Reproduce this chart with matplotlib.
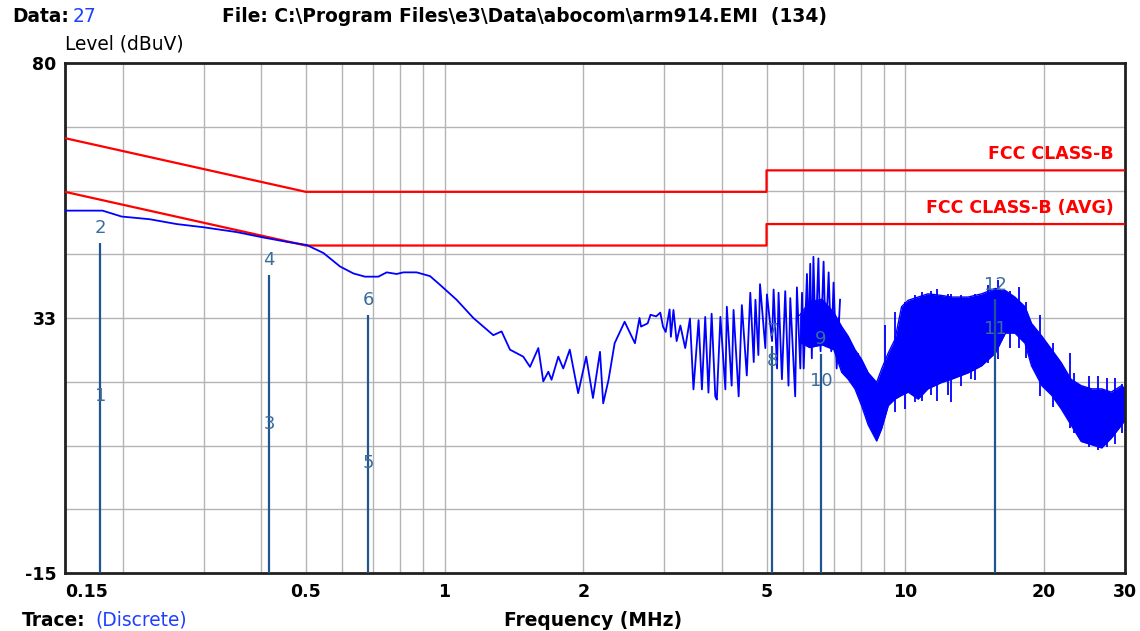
import numpy as np
import matplotlib
matplotlib.use("Agg")
import matplotlib.pyplot as plt

# ---------------- data ----------------
# scanned trace (line part, MHz / dBuV)
trace_freq = [0.150, 0.181, 0.199, 0.229, 0.262, 0.300, 0.354, 0.404, 0.454, 0.502,
              0.546, 0.593, 0.634, 0.672, 0.718, 0.749, 0.787, 0.814, 0.870, 0.930,
              0.977, 1.062, 1.155, 1.276, 1.330, 1.387, 1.482, 1.533, 1.598, 1.638,
              1.680, 1.707, 1.766, 1.810, 1.870, 1.950, 2.030, 2.100, 2.175, 2.210,
              2.270, 2.340, 2.460, 2.590, 2.650, 2.670, 2.760, 2.800, 2.880, 2.940,
              2.980, 3.020, 3.080, 3.100, 3.140, 3.190, 3.250, 3.330, 3.410, 3.470,
              3.560, 3.620, 3.680, 3.740, 3.800, 3.870, 3.900, 3.970, 4.070, 4.100,
              4.200, 4.240, 4.350, 4.420, 4.530, 4.610, 4.690, 4.730, 4.800, 4.840,
              4.970, 5.010, 5.140, 5.180, 5.270, 5.310, 5.400, 5.490, 5.580, 5.630,
              5.770, 5.820, 5.920, 5.970, 6.020, 6.120, 6.170, 6.220, 6.270, 6.320,
              6.390, 6.480, 6.550, 6.650, 6.720, 6.820, 6.910, 6.990, 7.100, 7.220]
trace_level = [52.5, 52.5, 51.4, 50.9, 50.0, 49.4, 48.5, 47.5, 46.7, 46.1,
               44.6, 42.1, 40.8, 40.2, 40.2, 41.0, 40.7, 41.0, 41.0, 40.3,
               38.7, 35.9, 32.5, 29.3, 30.0, 26.6, 25.3, 23.4, 26.9, 20.7,
               22.5, 21.0, 25.3, 23.1, 26.6, 18.5, 25.3, 17.6, 26.2, 16.6,
               21.0, 27.8, 31.8, 27.8, 32.5, 30.9, 31.5, 33.1, 32.8, 33.5,
               30.9, 29.9, 34.1, 29.0, 34.0, 28.2, 31.1, 26.9, 32.4, 19.2,
               32.1, 19.2, 32.7, 18.6, 33.3, 17.9, 17.3, 32.7, 19.2, 34.6,
               19.9, 34.0, 17.9, 34.9, 21.8, 37.2, 24.3, 35.9, 25.6, 38.8,
               26.9, 36.9, 28.2, 37.8, 23.1, 37.2, 21.1, 37.5, 19.9, 36.2,
               17.9, 38.2, 23.1, 37.2, 23.1, 40.7, 27.6, 42.6, 25.0, 43.9,
               28.2, 43.6, 26.3, 43.0, 27.6, 41.0, 26.3, 39.1, 23.1, 35.9]

# dense part of the trace: envelope of the solid band
band_freq = [5.9, 6.2, 6.6, 7.0, 7.28, 7.52, 7.78, 8.04, 8.31, 8.67, 8.89, 9.19,
             9.5, 9.82, 10.15, 10.67, 11.2, 12.0, 12.6, 13.7, 14.65, 15.7, 16.5,
             17.3, 18.2, 18.8, 19.8, 20.8, 21.8, 22.9, 24.1, 25.4, 26.7, 28.0,
             29.5, 30.0]
band_hi = [33.0, 35.5, 36.0, 33.5, 30.9, 29.1, 26.6, 24.8, 22.3, 20.5, 23.0, 26.0,
           28.5, 34.6, 35.8, 36.4, 37.0, 36.7, 36.4, 36.4, 37.0, 38.0, 37.6,
           36.4, 34.6, 31.5, 29.1, 26.6, 24.2, 21.1, 19.9, 19.3, 19.3, 18.7,
           19.9, 19.3]
band_lo = [28.0, 27.0, 27.5, 26.6, 22.4, 21.1, 19.3, 16.2, 12.6, 9.6, 11.9, 16.2,
           17.4, 18.1, 18.7, 17.4, 19.3, 20.5, 21.1, 22.3, 23.6, 26.0, 29.7,
           29.7, 27.8, 23.6, 19.9, 18.1, 15.6, 12.6, 9.5, 8.9, 8.3, 10.1,
           12.6, 13.5]

# individual spikes sticking out of the band
spike_freq = [7.2, 7.5, 7.9, 9.04, 9.5, 10.0, 10.5, 10.9, 11.4, 11.7, 12.4, 12.6,
              13.2, 13.9, 14.2, 15.1, 15.9, 16.9, 17.7, 18.3, 19.6, 20.9, 22.8,
              23.3, 25.0, 26.2, 27.4, 28.5, 29.5]
spike_hi = [32.7, 29.1, 26.0, 31.2, 33.7, 35.5, 36.7, 37.3, 37.6, 37.9, 37.0, 37.0,
            36.7, 36.5, 37.0, 38.6, 39.5, 37.6, 38.3, 35.5, 33.0, 27.8, 26.0,
            22.3, 21.7, 21.7, 21.4, 21.4, 20.2]
spike_lo = [24.0, 22.0, 18.0, 14.0, 15.0, 15.6, 16.8, 17.0, 18.1, 17.0, 18.1, 16.8,
            19.9, 21.1, 21.0, 24.2, 24.8, 27.0, 27.0, 25.0, 18.0, 16.0, 12.0,
            11.0, 8.5, 8.0, 8.5, 9.0, 11.0]

# FCC class B limits
qp_freq = [0.15, 0.5, 5.0, 5.0, 30.0]
qp_level = [66.0, 56.0, 56.0, 60.0, 60.0]
avg_freq = [0.15, 0.5, 5.0, 5.0, 30.0]
avg_level = [56.0, 46.0, 46.0, 50.0, 50.0]
limit_names = ["FCC CLASS-B", "FCC CLASS-B (AVG)"]

# markers
marker_id = ["1", "2", "3", "4", "5", "6", "7", "8", "9", "10", "11", "12"]
marker_freq = [0.179, 0.179, 0.416, 0.416, 0.682, 0.682, 5.14, 5.14, 6.56, 6.56, 15.66, 15.66]
marker_level = [15.2, 46.5, 10.0, 40.5, 2.7, 33.1, 27.3, 21.7, 25.8, 18.0, 27.7, 36.0]

x_tick_vals = [0.15, 0.5, 1, 2, 5, 10, 20, 30]
x_tick_labels = ["0.15", "0.5", "1", "2", "5", "10", "20", "30"]
x_grid_vals = [0.2, 0.3, 0.4, 0.5, 0.6, 0.7, 0.8, 0.9, 1, 2, 3, 4, 5, 6, 7, 8, 9, 10, 20]
y_tick_vals = [-15, 32.5, 80]
y_tick_labels = ["-15", "33", "80"]

# ---------------- figure ----------------
W, H = 1140, 631
fig = plt.figure(figsize=(W / 100, H / 100), dpi=100)
fig.patch.set_facecolor("white")
L, R, T, B = 65, 1125, 63, 573
ax = fig.add_axes([L / W, 1 - B / H, (R - L) / W, (B - T) / H])
ax.set_xscale("log")
ax.set_xlim(0.15, 30)
ax.set_ylim(-15, 80)

gridc = "#b4b4b4"
for g in x_grid_vals:
    ax.axvline(g, color=gridc, lw=1.0, zorder=0)
for g in np.linspace(-15, 80, 9)[1:-1]:
    ax.axhline(g, color=gridc, lw=1.0, zorder=0)

ax.set_xticks(x_tick_vals)
ax.set_xticklabels(x_tick_labels)
ax.xaxis.set_minor_locator(matplotlib.ticker.NullLocator())
ax.set_yticks(y_tick_vals)
ax.set_yticklabels(y_tick_labels)
ax.tick_params(axis="both", length=0, labelsize=12.5)
ax.tick_params(axis="x", pad=7)
ax.tick_params(axis="y", pad=6)
for lab in ax.get_xticklabels() + ax.get_yticklabels():
    lab.set_fontweight("bold")
ax.get_xticklabels()[0].set_horizontalalignment("left")
for s in ax.spines.values():
    s.set_linewidth(2.0)
    s.set_color("#202020")

# limits
ax.plot(qp_freq, qp_level, color="#ff0000", lw=1.6, zorder=3)
ax.plot(avg_freq, avg_level, color="#ff0000", lw=1.6, zorder=3)

# trace
blue = "#0000ff"
ax.fill_between(band_freq, band_lo, band_hi, color=blue, lw=0, zorder=2)
ax.plot(band_freq, band_hi, color=blue, lw=1.0, zorder=2)
ax.plot(band_freq, band_lo, color=blue, lw=1.0, zorder=2)
ax.vlines(spike_freq, spike_lo, spike_hi, color=blue, lw=1.3, zorder=2)
ax.plot(trace_freq, trace_level, color=blue, lw=1.3, zorder=4)

# markers
mline = "#1f5590"
mtext = "#3a6c9c"
tops = {}
for f, v in zip(marker_freq, marker_level):
    tops[f] = max(tops.get(f, -100), v)
for f, top in tops.items():
    ax.vlines(f, -15, top, color=mline, lw=1.6, zorder=5)
for mid, f, v in zip(marker_id, marker_freq, marker_level):
    ax.annotate(mid, (f, v), xytext=(0, 4), textcoords="offset points",
                ha="center", va="bottom", color=mtext, fontsize=13, zorder=6)

# limit names
ax.annotate(limit_names[0], (30, qp_level[-1]), xytext=(-8, 5), textcoords="offset points",
            ha="right", va="bottom", color="#ff0000", fontsize=12.5, fontweight="bold")
ax.annotate(limit_names[1], (30, avg_level[-1]), xytext=(-8, 5), textcoords="offset points",
            ha="right", va="bottom", color="#ff0000", fontsize=12.5, fontweight="bold")

fig.canvas.draw()
renderer = fig.canvas.get_renderer()


def put(x, y, s, size, color="black", weight="bold", ha="left", va="center"):
    return fig.text(x / W, 1 - y / H, s, color=color, fontweight=weight,
                    ha=ha, va=va, fontsize=size)


ft = put(222, 17, "File: C:\\Program Files\\e3\\Data\\abocom\\arm914.EMI  (134)", 12)
w0 = ft.get_window_extent(renderer).width
hs = 12 * 603 / w0
ft.set_fontsize(hs)

dt = put(12, 17, "Data:", hs)
dend = dt.get_window_extent(renderer).x1
put(dend + 4, 17, "27", hs, color="#1f3fff", weight="normal")
put(65, 44, "Level (dBuV)", hs, weight="normal")
put(593, 620, "Frequency (MHz)", hs, ha="center")
tt = put(22, 630, "Trace:", hs, va="bottom")
tend = tt.get_window_extent(renderer).x1
put(tend + 10, 630, "(Discrete)", hs, color="#1f3fff", weight="normal", va="bottom")

fig.savefig("out.png", dpi=100)
